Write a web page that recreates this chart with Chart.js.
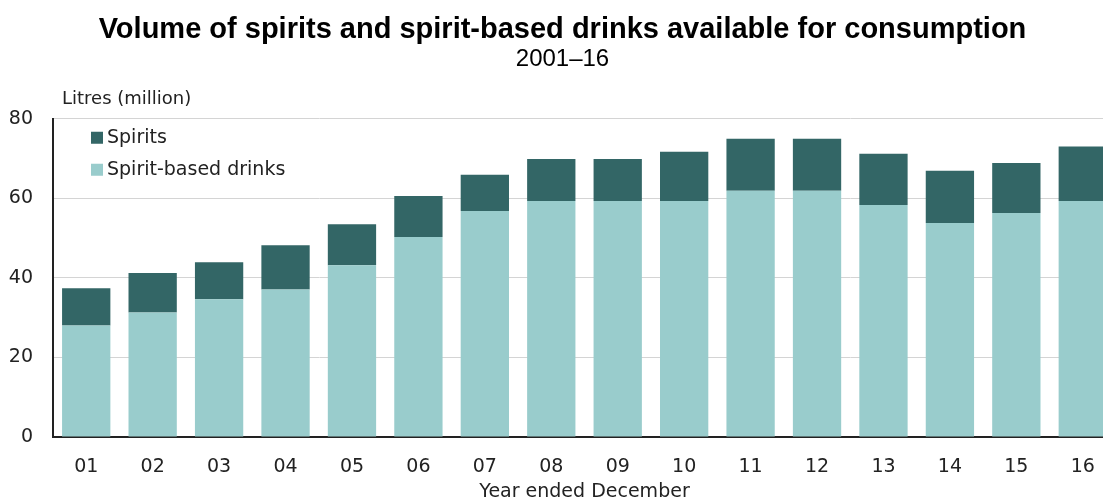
<!DOCTYPE html>
<html>
<head>
<meta charset="utf-8">
<script src="https://cdn.jsdelivr.net/npm/chart.js@4"></script>
<style>
  html, body { margin: 0; padding: 0; background: #fff; overflow: hidden; }
  #wrap { width: 1118px; height: 501px; }
</style>
</head>
<body>
<div id="wrap"><canvas id="graficoBebidas" width="1118" height="501"></canvas></div>
<script>
// Dados (litros, milhões)
const anos = ['01', '02', '03', '04', '05', '06', '07', '08', '09', '10', '11', '12', '13', '14', '15', '16'];
const bebidasBaseDestilado = [28.0, 31.3, 34.6, 37.1, 43.2, 50.3, 56.8, 59.3, 59.3, 59.3, 61.9, 61.9, 58.3, 53.8, 56.3, 59.3];
const destilados = [9.4, 9.9, 9.3, 11.1, 10.3, 10.3, 9.1, 10.6, 10.6, 12.4, 13.1, 13.1, 12.9, 13.1, 12.6, 13.7];
const ticksY = [0, 20, 40, 60, 80];

const fonte = 'DejaVu Sans';
const fonteTitulo = 'Liberation Sans';

// Legenda e título do eixo desenhados dentro da área do gráfico
const legendaInterna = {
    id: 'legendaInterna',
    afterDraw(chart) {
        const ctx = chart.ctx;
        const area = chart.chartArea;
        ctx.save();
        ctx.font = '18px "' + fonte + '"';
        ctx.fillStyle = '#222';
        ctx.textBaseline = 'middle';
        ctx.textAlign = 'left';
        ctx.fillText('Litres (million)', area.left + 9, area.top - 19);

        ctx.font = '19px "' + fonte + '"';
        const itens = [chart.data.datasets[1], chart.data.datasets[0]];
        itens.forEach(function (ds, i) {
            const y = area.top + 19 + i * 32;
            ctx.fillStyle = ds.backgroundColor;
            ctx.fillRect(area.left + 38, y - 6, 12, 12);
            ctx.fillStyle = '#222';
            ctx.fillText(ds.label, area.left + 54, y);
        });
        ctx.restore();
    }
};

const config = {
    type: 'bar',
    data: {
        labels: anos,
        datasets: [{
            label: 'Spirit-based drinks',
            data: bebidasBaseDestilado,
            backgroundColor: '#99cccc',
            borderWidth: 0
        }, {
            label: 'Spirits',
            data: destilados,
            backgroundColor: '#336666',
            borderWidth: 0
        }]
    },
    options: {
        responsive: false,
        animation: false,
        layout: {
            padding: { left: 9, right: 2, top: 0, bottom: 0 }
        },
        datasets: {
            bar: { categoryPercentage: 1, barPercentage: 0.727 }
        },
        plugins: {
            legend: { display: false },
            tooltip: { enabled: false },
            title: {
                display: true,
                text: 'Volume of spirits and spirit-based drinks available for consumption',
                color: '#000',
                font: { family: fonteTitulo, size: 29, weight: 'bold', lineHeight: 1.05 },
                padding: { top: 15, bottom: 0 }
            },
            subtitle: {
                display: true,
                text: '2001–16',
                color: '#000',
                font: { family: fonteTitulo, size: 24 },
                padding: { top: 0, bottom: 44.5 }
            }
        },
        scales: {
            x: {
                stacked: true,
                grid: { display: false, drawTicks: false },
                border: { display: true, color: '#222', width: 2 },
                ticks: {
                    color: '#222',
                    font: { family: fonte, size: 19 },
                    padding: 19,
                    maxRotation: 0,
                    autoSkip: false
                },
                title: {
                    display: true,
                    text: 'Year ended December',
                    color: '#222',
                    font: { family: fonte, size: 19 },
                    padding: { top: 4, bottom: -2 }
                },
                afterFit: function (scale) { scale.height = 64; }
            },
            y: {
                stacked: true,
                min: 0,
                max: 80,
                afterBuildTicks: function (scale) {
                    scale.ticks = ticksY.map(function (v) { return { value: v }; });
                },
                grid: { color: '#d4d4d4', lineWidth: 1, drawTicks: false },
                border: { display: true, color: '#222', width: 2 },
                ticks: {
                    color: '#222',
                    font: { family: fonte, size: 19 },
                    padding: 20
                },
                afterFit: function (scale) { scale.width = 44; }
            }
        }
    },
    plugins: [legendaInterna]
};

new Chart(document.getElementById('graficoBebidas'), config);
</script>
</body>
</html>
